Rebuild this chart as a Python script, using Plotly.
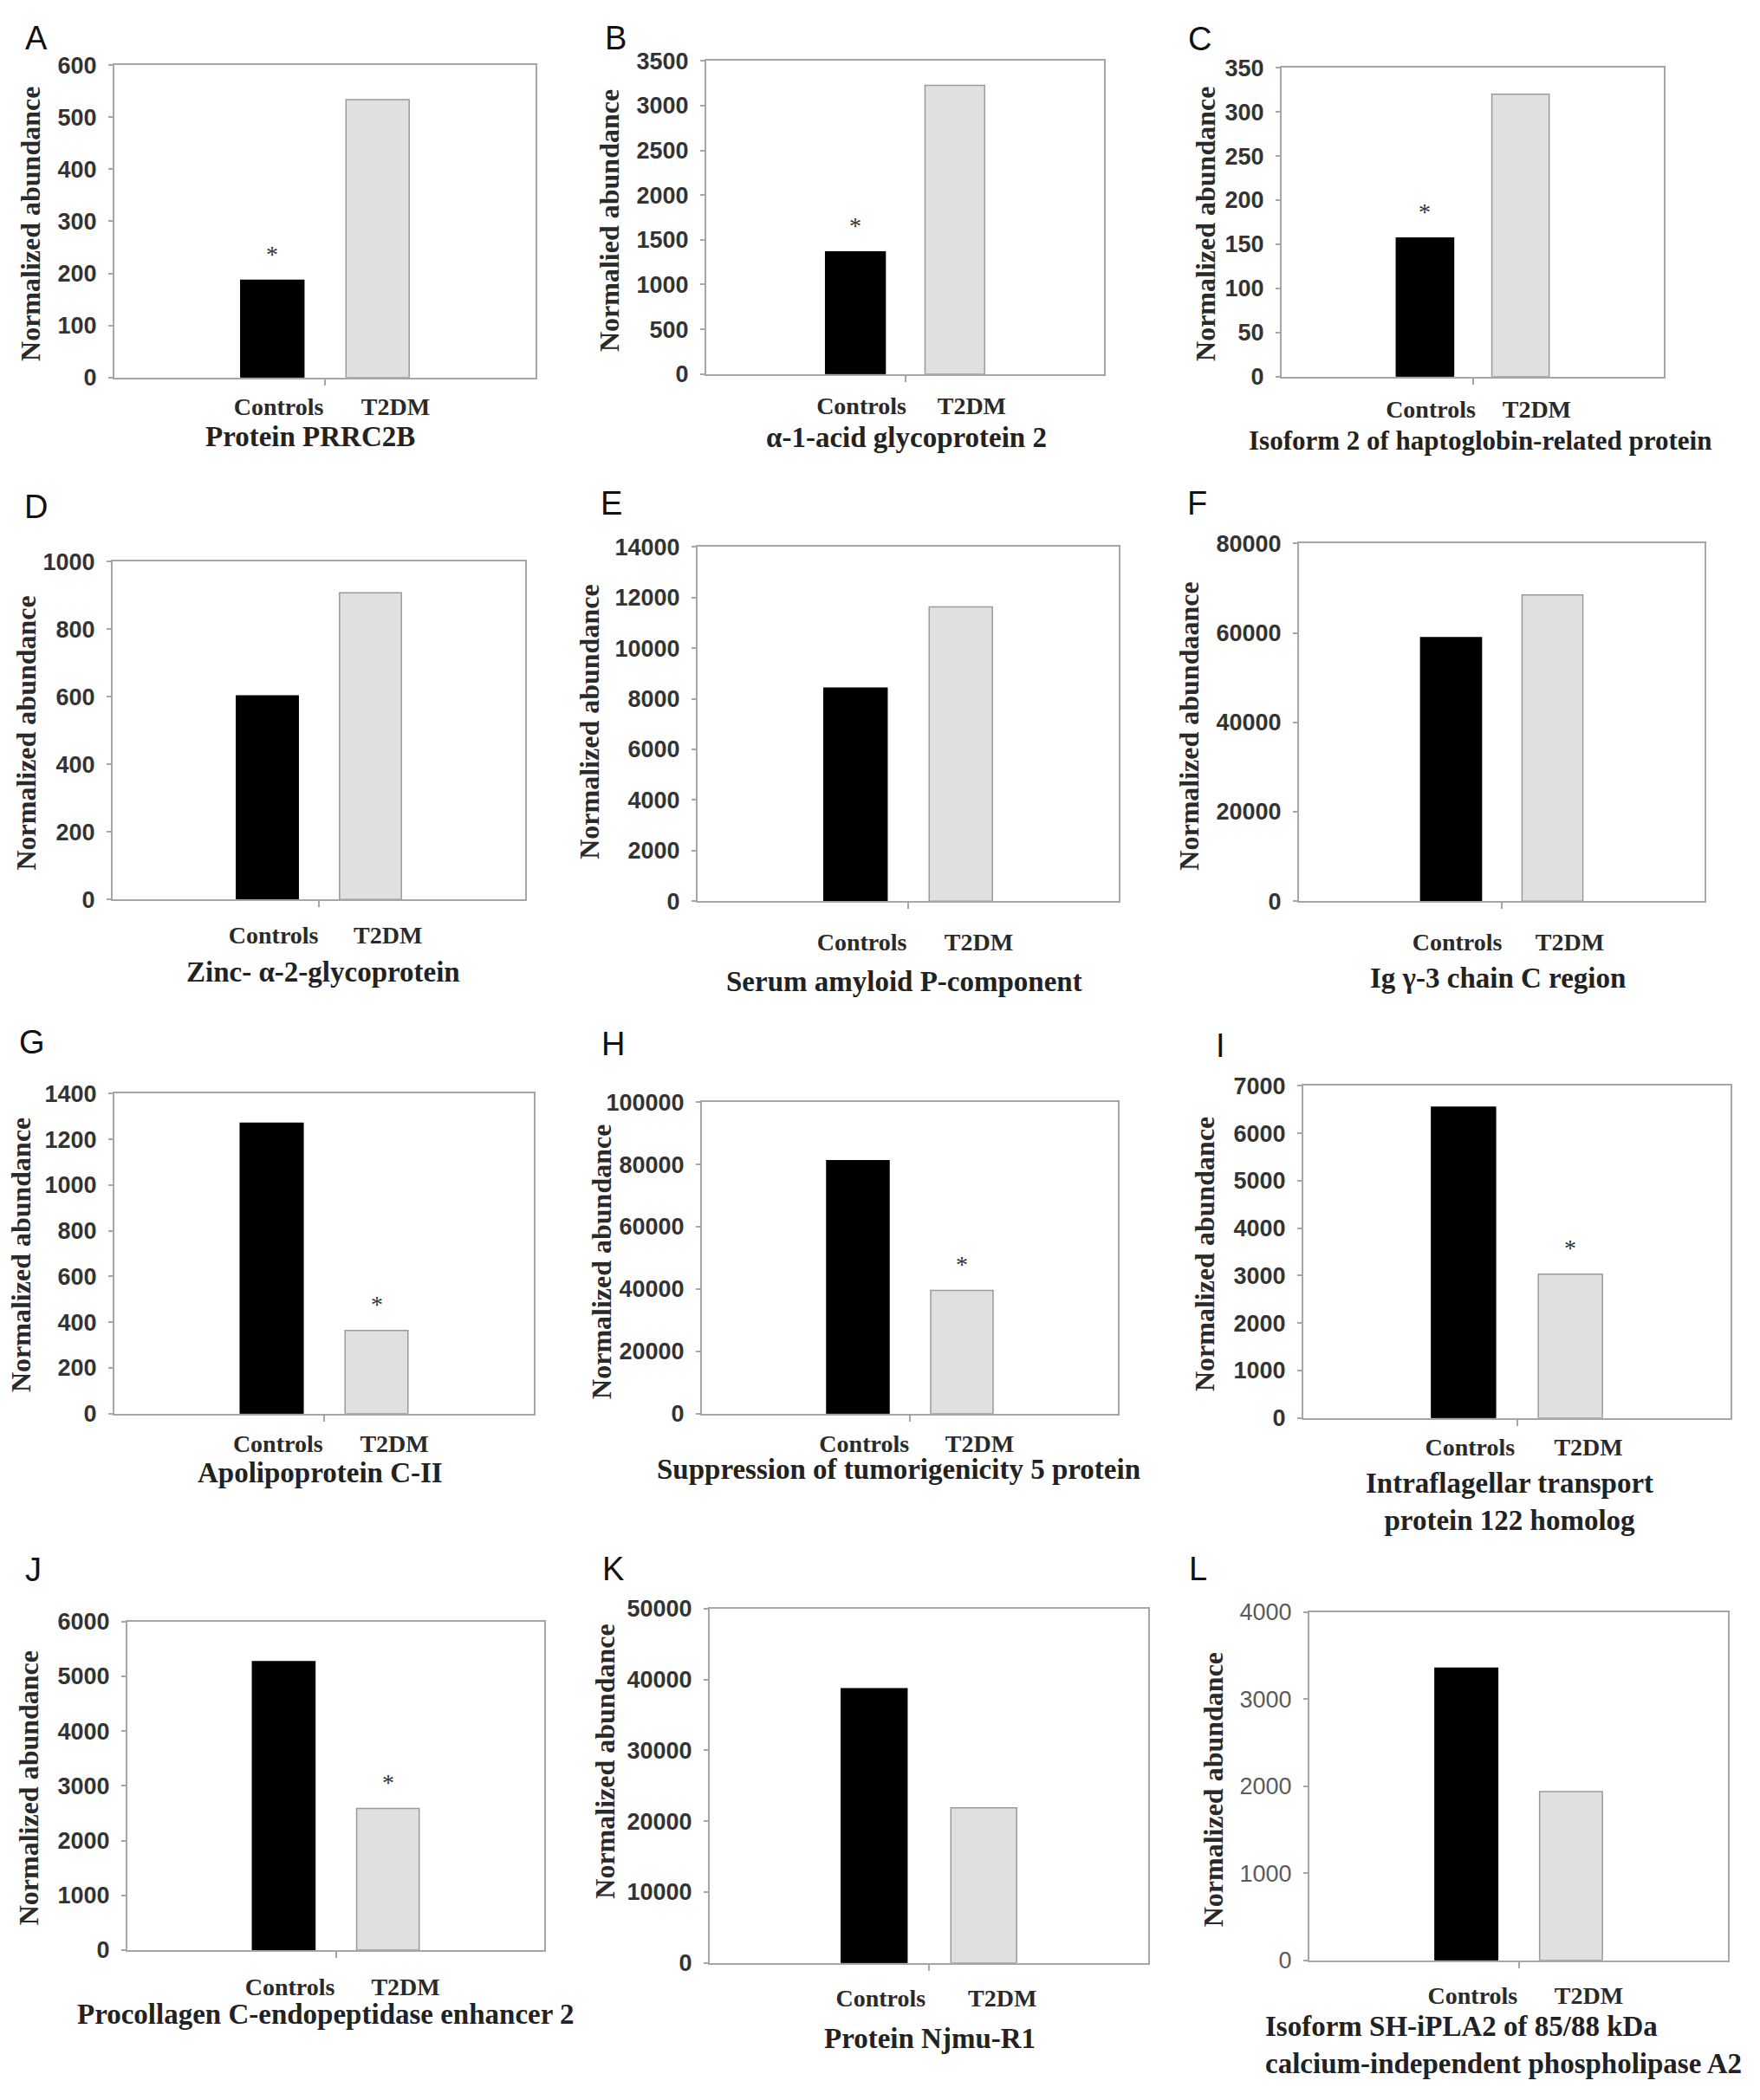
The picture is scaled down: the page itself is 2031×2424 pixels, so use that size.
import plotly.graph_objects as go

# ---------------- data ----------------
categories = ["Controls", "T2DM"]
panel_letters = ["A", "B", "C", "D", "E", "F", "G", "H", "I", "J", "K", "L"]
protein_names = [
    "Protein PRRC2B",
    "α-1-acid glycoprotein 2",
    "Isoform 2 of haptoglobin-related protein",
    "Zinc- α-2-glycoprotein",
    "Serum amyloid P-component",
    "Ig γ-3 chain C region",
    "Apolipoprotein C-II",
    "Suppression of tumorigenicity 5 protein",
    "Intraflagellar transport<br>protein 122 homolog",
    "Procollagen C-endopeptidase enhancer 2",
    "Protein Njmu-R1",
    "Isoform SH-iPLA2 of 85/88 kDa<br>calcium-independent phospholipase A2",
]
y_titles = [
    "Normalized abundance", "Normalied abundance", "Normalized abundance",
    "Normalized abundance", "Normalized abundance", "Normalized abundaance",
    "Normalized abundance", "Normalized abundance", "Normalized abundance",
    "Normalized abundance", "Normalized abundance", "Normalized abundance",
]
controls_values = [187, 1365, 157, 602, 8420, 58950, 1271, 81200, 6554, 5266, 38700, 3356]
t2dm_values = [534, 3226, 320, 907, 11630, 68500, 364, 39560, 3031, 2586, 21900, 1940]
y_max = [600, 3500, 350, 1000, 14000, 80000, 1400, 100000, 7000, 6000, 50000, 4000]
y_dtick = [100, 500, 50, 200, 2000, 20000, 200, 20000, 1000, 1000, 10000, 1000]
significant = ["Controls", "Controls", "Controls", None, None, None,
               "T2DM", "T2DM", "T2DM", "T2DM", None, None]

# ---------------- layout (pixel geometry of the page) ----------------
W, H = 2031, 2424
# plot box: left, right, top, bottom (px)
boxes = [
    (132, 618, 61, 426), (815, 1274, 56, 422), (1479, 1920, 64, 425),
    (130, 606, 641, 1036), (805, 1291, 624, 1038), (1499, 1967, 620, 1038),
    (132, 616, 1263, 1637), (810, 1290, 1273, 1637), (1504, 1997, 1254, 1642),
    (147, 628, 1880, 2264), (819, 1325, 1865, 2279), (1511, 1994, 1869, 2276),
]
letter_pos = [
    (42, 29), (710, 29), (1384, 30), (41, 577), (705, 573), (1381, 573),
    (37, 1203), (707, 1205), (1408, 1207), (38, 1820), (707, 1819), (1382, 1818),
]
ylab_pos = [
    (35, 247), (703, 243), (1391, 247), (30, 842), (680, 829), (1372, 834),
    (24, 1452), (694, 1460), (1390, 1451), (33, 2075), (698, 2044), (1400, 2077),
]
cat_gap = [28, 31, 32, 35, 41, 41, 29, 29, 28, 36, 35, 35]
title_pos = [
    (358, 495), (1046, 496), (1708, 500), (373, 1121), (1043, 1132), (1728, 1128),
    (369, 1706), (1037, 1702), (1742, 1740), (376, 2339), (1073, 2367), (1458, 2375),
]
title_size = [33, 33, 31, 33, 33, 33, 33, 33, 33, 33, 33, 33]

SERIF = "Liberation Serif, Times New Roman, serif"
SANS = "Liberation Sans, Arial, sans-serif"
TXT = "#2a2a2a"
FRAME = "#a6a6a6"

fig = go.Figure()
annotations = []
layout_axes = {}

for i in range(12):
    n = i + 1
    xa = "x" if n == 1 else f"x{n}"
    ya = "y" if n == 1 else f"y{n}"
    xkey = "xaxis" if n == 1 else f"xaxis{n}"
    ykey = "yaxis" if n == 1 else f"yaxis{n}"
    l, r, t, b = boxes[i]

    fig.add_trace(go.Bar(
        x=[0, 1],
        y=[controls_values[i], t2dm_values[i]],
        width=0.6,
        marker=dict(color=["#000000", "#e0e0e0"],
                    line=dict(color=["#000000", "#9a9a9a"], width=1.5)),
        xaxis=xa, yaxis=ya, showlegend=False, hoverinfo="x+y",
    ))

    light = (i == 11)
    layout_axes[xkey] = dict(
        domain=[l / W, r / W], anchor=ya, range=[-1.5, 2.5],
        tickmode="array", tickvals=[0.06, 1.17], ticktext=categories,
        ticks="", showgrid=False, zeroline=False,
        showline=True, linecolor=FRAME, linewidth=2, mirror=True,
        tickfont=dict(family=SERIF, size=28, color=TXT, weight="bold"),
        ticklabelstandoff=max(cat_gap[i] - 20, 0),
        minor=dict(tickmode="array", tickvals=[0.5], ticks="outside",
                   ticklen=7, tickwidth=1.5, tickcolor=FRAME, showgrid=False),
        fixedrange=True,
    )
    layout_axes[ykey] = dict(
        domain=[1 - b / H, 1 - t / H], anchor=xa, range=[0, y_max[i]],
        tickmode="linear", tick0=0, dtick=y_dtick[i], tickformat="d",
        ticks="outside", ticklen=5, tickwidth=1.5, tickcolor=FRAME,
        showgrid=False, zeroline=False,
        showline=True, linecolor=FRAME, linewidth=2, mirror=True,
        tickfont=dict(family=SANS, size=27,
                      color="#5a5a5a" if light else "#333333",
                      weight="normal" if light else "bold"),
        ticklabelstandoff=8,
        fixedrange=True,
    )

    # panel letter
    lx, ly = letter_pos[i]
    annotations.append(dict(
        text=panel_letters[i], x=lx / W, y=1 - ly / H, xref="paper", yref="paper",
        xanchor="center", yanchor="middle", showarrow=False,
        font=dict(family=SANS, size=38, color="#111111"),
    ))
    # y-axis title
    yx, yy = ylab_pos[i]
    annotations.append(dict(
        text=y_titles[i], x=yx / W, y=1 - yy / H, xref="paper", yref="paper",
        xanchor="center", yanchor="middle", showarrow=False, textangle=-90,
        font=dict(family=SERIF, size=32, color=TXT, weight="bold"),
    ))
    # protein name under the panel
    tx, ty = title_pos[i]
    annotations.append(dict(
        text=protein_names[i], x=tx / W, y=1 - ty / H, xref="paper", yref="paper",
        xanchor="left" if i == 11 else "center", yanchor="middle",
        align="left" if i == 11 else "center", showarrow=False,
        font=dict(family=SERIF, size=title_size[i], color="#222222", weight="bold"),
    ))
    # significance star
    if significant[i] is not None:
        k = categories.index(significant[i])
        val = [controls_values[i], t2dm_values[i]][k]
        annotations.append(dict(
            text="*", x=k, y=val, xref=xa, yref=ya,
            xanchor="center", yanchor="middle", yshift=30, showarrow=False,
            font=dict(family=SERIF, size=28, color="#333333"),
        ))

fig.update_layout(
    width=W, height=H,
    margin=dict(l=0, r=0, t=0, b=0),
    paper_bgcolor="white", plot_bgcolor="white",
    bargap=0.4,
    annotations=annotations,
    **layout_axes,
)

fig.write_html("out.html", config={"displayModeBar": False},
               post_script="document.body.style.margin='0px';")
